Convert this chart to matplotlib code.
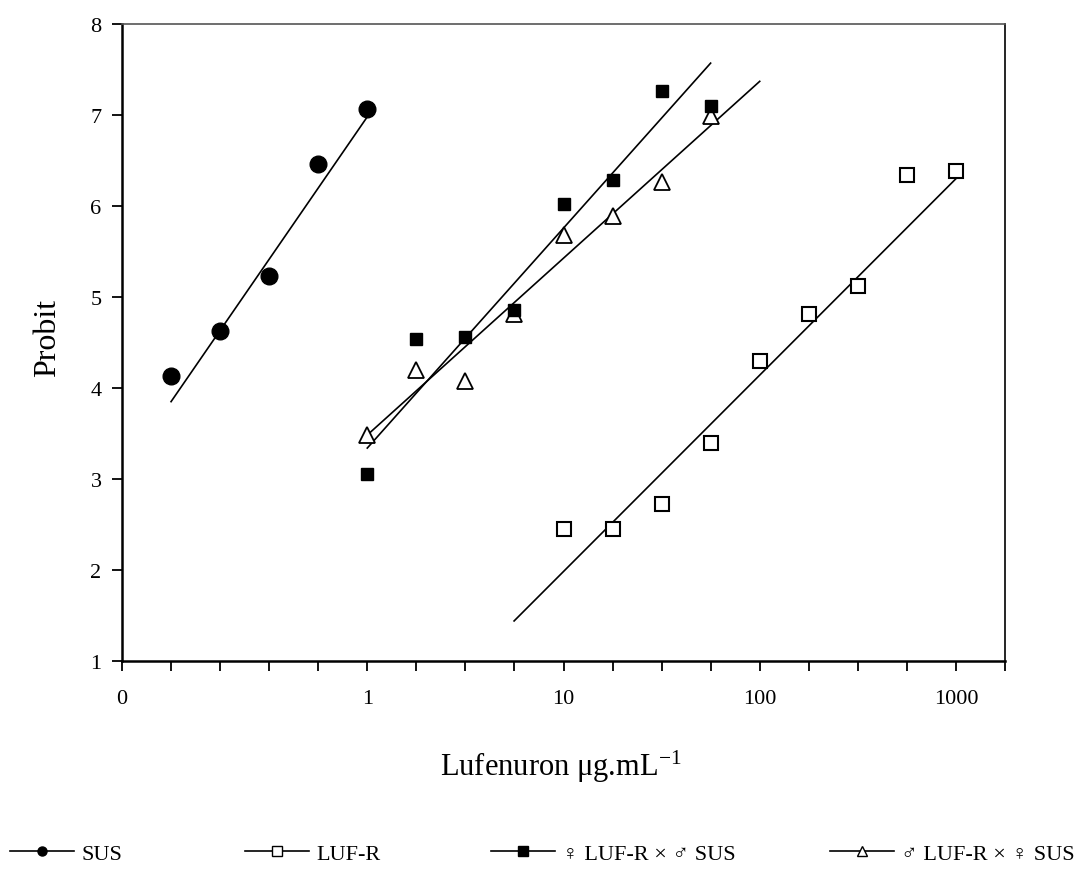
import numpy as np
import matplotlib
matplotlib.use("Agg")
import matplotlib.pyplot as plt
from matplotlib.lines import Line2D

plt.rcParams['font.family'] = ['Liberation Serif', 'DejaVu Serif', 'DejaVu Sans']
plt.rcParams['mathtext.fontset'] = 'custom'
plt.rcParams['mathtext.rm'] = 'Liberation Serif'
plt.rcParams['mathtext.it'] = 'Liberation Serif:italic'

# ---- data ----
sus_x = [0.1, 0.178, 0.316, 0.562, 1.0]
sus_y = [4.13, 4.63, 5.23, 6.46, 7.07]
sus_line_x = [0.1, 1.0]
sus_line_y = [3.85, 6.98]

lufr_x = [10, 17.8, 31.6, 56.2, 100, 178, 316, 562, 1000]
lufr_y = [2.45, 2.45, 2.72, 3.40, 4.30, 4.81, 5.12, 6.34, 6.38]
lufr_line_x = [5.6, 1000]
lufr_line_y = [1.44, 6.30]

cross_x = [1, 1.78, 3.16, 5.62, 10, 17.8, 31.6, 56.2]
fem_y = [3.06, 4.54, 4.56, 4.86, 6.02, 6.29, 7.26, 7.10]
fem_line_x = [1.0, 56.2]
fem_line_y = [3.34, 7.57]

male_y = [3.48, 4.20, 4.08, 4.81, 5.68, 5.89, 6.26, 6.99]
male_line_x = [0.95, 100]
male_line_y = [3.44, 7.37]

tick_exps = [k / 4 for k in range(-5, 14)]
tick_label_map = {-1.25: '0', 0.0: '1', 1.0: '10', 2.0: '100', 3.0: '1000'}
y_ticks = [1, 2, 3, 4, 5, 6, 7, 8]

series_labels = ['SUS', 'LUF-R', '\u2640 LUF-R \u00d7 \u2642 SUS', '\u2642 LUF-R \u00d7 \u2640 SUS']

# ---- figure ----
W, H = 1087, 870
fig = plt.figure(figsize=(W / 100, H / 100), dpi=100)
ax = fig.add_axes([122 / W, 1 - 662 / H, (1005 - 122) / W, (662 - 25) / H])

lw = 1.2
ax.plot(sus_line_x, sus_line_y, color='black', lw=lw)
ax.plot(lufr_line_x, lufr_line_y, color='black', lw=lw)
ax.plot(fem_line_x, fem_line_y, color='black', lw=lw)
ax.plot(male_line_x, male_line_y, color='black', lw=lw)

ax.plot(sus_x, sus_y, 'o', ms=12, color='black', zorder=3)
ax.plot(lufr_x, lufr_y, 's', ms=10.5, mfc='white', mec='black', mew=1.5, zorder=3)
ax.plot(cross_x, male_y, '^', ms=11, mfc='white', mec='black', mew=1.3, zorder=3)
ax.plot(cross_x, fem_y, 's', ms=9, color='black', zorder=4)

ax.set_xscale('log')
ax.set_xlim(10 ** -1.25, 10 ** 3.25)
ax.set_ylim(1, 8)
ax.set_xticks([10 ** e for e in tick_exps])
ax.set_xticklabels([tick_label_map.get(e, '') for e in tick_exps])
ax.xaxis.set_minor_locator(matplotlib.ticker.NullLocator())
ax.set_yticks(y_ticks)
ax.tick_params(axis='both', direction='out', length=7.2, width=1.3, labelsize=16)
ax.tick_params(axis='x', pad=13)
ax.tick_params(axis='y', pad=7.5)

for s in ['left', 'bottom']:
    ax.spines[s].set_linewidth(1.8)
for s in ['top', 'right']:
    ax.spines[s].set_linewidth(1.2)
ax.spines['top'].set_color('#555555')

fig.text(48 / W, 1 - 338 / H, 'Probit', rotation=90, fontsize=23, ha='center', va='center')
fig.text(561 / W, 1 - 767 / H, r'Lufenuron μg.mL$^{-1}$', fontsize=22, ha='center', va='center')

handles = [
    Line2D([], [], color='black', lw=lw, marker='o', ms=6.5),
    Line2D([], [], color='black', lw=lw, marker='s', ms=7, mfc='white'),
    Line2D([], [], color='black', lw=lw, marker='s', ms=7),
    Line2D([], [], color='black', lw=lw, marker='^', ms=6.5, mfc='white'),
]
legend_x = [10, 245, 491, 830]
for h, lab, lx in zip(handles, series_labels, legend_x):
    fig.legend([h], [lab], loc='center left', bbox_to_anchor=(lx / W, 1 - 855 / H),
               frameon=False, fontsize=16, handlelength=2.9, handletextpad=0.3,
               borderpad=0, borderaxespad=0)

fig.savefig('out.png', dpi=100)
